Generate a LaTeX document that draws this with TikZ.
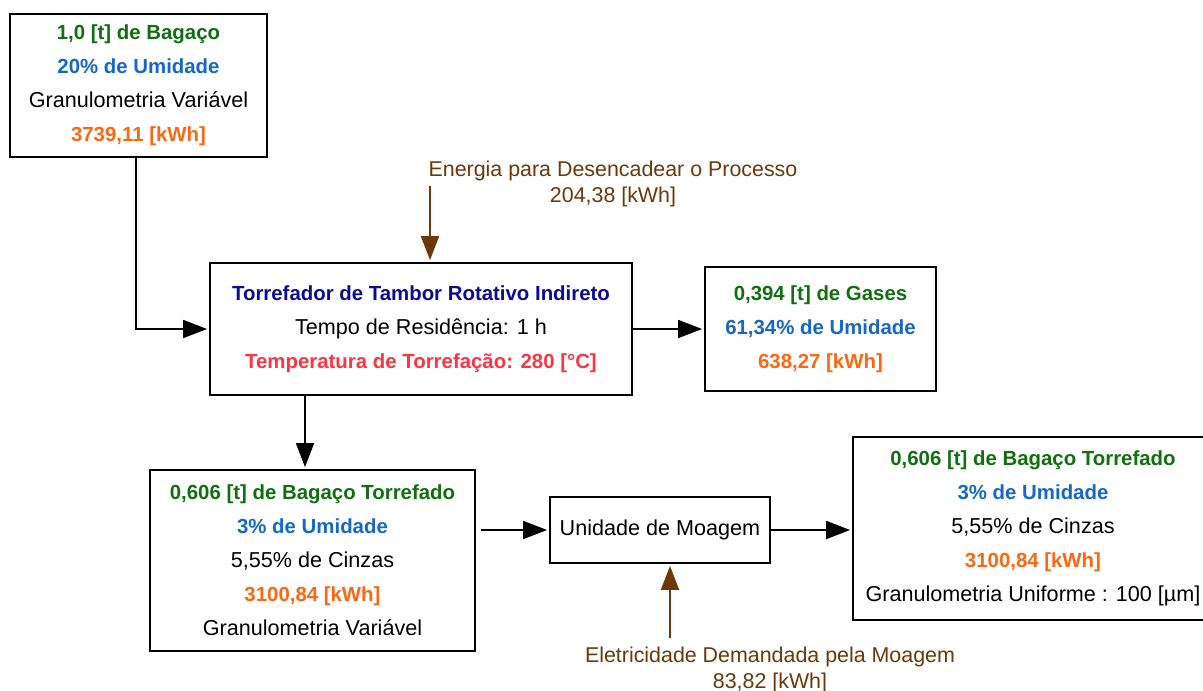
\documentclass[tikz,border=0pt]{standalone}
\usepackage{fontspec}
\setmainfont{Liberation Sans}
\usetikzlibrary{arrows.meta}
\definecolor{cgreen}{RGB}{16,112,16}
\definecolor{cblue}{RGB}{21,104,200}
\definecolor{corange}{RGB}{255,102,17}
\definecolor{cnavy}{RGB}{10,10,150}
\definecolor{cred}{RGB}{255,51,68}
\definecolor{cbrown}{RGB}{108,56,10}
\tikzset{
  box/.style={draw=black, line width=1.8pt, fill=white, align=center, inner sep=0pt,
    font={\fontsize{21.6}{34}\selectfont}},
  lbl/.style={align=center, text=cbrown, inner sep=0pt, font={\fontsize{21.4}{26}\selectfont}},
  arr/.style={draw=black, line width=1.8pt, shorten >=2pt, -{Triangle[length=24pt,width=18pt]}},
  barr/.style={draw=cbrown, line width=1.8pt, shorten >=2pt, -{Triangle[length=24pt,width=18pt]}},
}
\newcommand{\BF}[2]{\textcolor{#1}{\fontsize{20.4}{34}\selectfont\bfseries #2}}
\newcommand{\G}[1]{\BF{cgreen}{#1}}
\newcommand{\B}[1]{\BF{cblue}{#1}}
\newcommand{\Or}[1]{\BF{corange}{#1}}
\begin{document}
\begin{tikzpicture}[x=1pt,y=-1pt]
\useasboundingbox (0,0) rectangle (1203,691);
\fill[white] (0,0) rectangle (1203,691);

\node[box, minimum width=257pt, minimum height=143pt] (b1) at (138.5,85.5)
  {\G{1,0 [t] de Bagaço}\\ \B{20\% de Umidade}\\ Granulometria Variável\\ \Or{3739,11 [kWh]}};

\node[box, minimum width=422pt, minimum height=132pt] (b2) at (421,329)
  {\BF{cnavy}{Torrefador de Tambor Rotativo Indireto}\\ Tempo de Residência: 1 h\\ \BF{cred}{Temperatura de Torrefação: 280 [°C]}};

\node[box, minimum width=231pt, minimum height=124pt] (b3) at (820.5,329)
  {\G{0,394 [t] de Gases}\\ \B{61,34\% de Umidade}\\ \Or{638,27 [kWh]}};

\node[box, minimum width=325pt, minimum height=181pt] (b4) at (312.5,560.5)
  {\G{0,606 [t] de Bagaço Torrefado}\\ \B{3\% de Umidade}\\ 5,55\% de Cinzas\\ \Or{3100,84 [kWh]}\\ Granulometria Variável};

\node[box, minimum width=220pt, minimum height=66pt] (m) at (660,530)
  {Unidade de Moagem};

\node[box, minimum width=360pt, minimum height=183pt] (b5) at (1033,528.5)
  {\G{0,606 [t] de Bagaço Torrefado}\\ \B{3\% de Umidade}\\ 5,55\% de Cinzas\\ \Or{3100,84 [kWh]}\\ Granulometria Uniforme : 100 [µm]};

\node[lbl] (el1) at (613,184) {Energia para Desencadear o Processo\\ 204,38 [kWh]};
\node[lbl] (el2) at (770,670) {Eletricidade Demandada pela Moagem\\ 83,82 [kWh]};

\coordinate (e) at (430,186);
\coordinate (el) at (670,638);
\coordinate (xd) at (305,0);

\draw[arr] (b1.south -| 136,0) |- (b2.west);
\draw[barr] (e) -- (e |- b2.north);
\draw[arr] (b2.east) -- (b3.west);
\draw[arr] (xd |- b2.south) -- (xd |- b4.north);
\draw[arr, shorten <=5pt] (m.west -| b4.east) -- (m.west);
\draw[arr] (m.east) -- (m.east -| b5.west);
\draw[barr] (el) -- (el |- m.south);
\end{tikzpicture}
\end{document}
